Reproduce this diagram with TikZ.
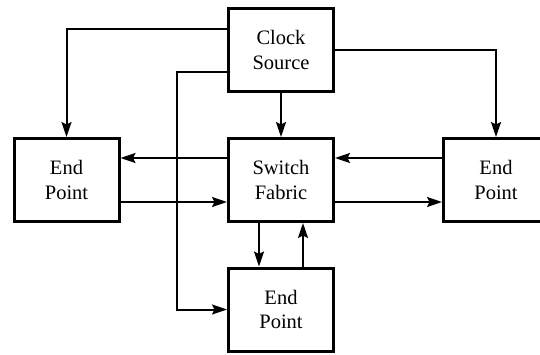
\documentclass[tikz,border=0pt]{standalone}
\usepackage{fontspec}
\setmainfont{Liberation Serif}
\newfontfamily\timesfont{Liberation Serif}
\usetikzlibrary{arrows.meta}
\begin{document}
\begin{tikzpicture}[x=1pt,y=1pt,
  box/.style={draw, line width=3pt, minimum width=105pt, minimum height=83pt,
    inner sep=0pt, align=center, font=\timesfont\fontsize{20.5}{24.5}\selectfont},
  link/.style={line width=2pt, -{Stealth[length=15pt,width=10pt,inset=2.5pt]}}]
\useasboundingbox (0,0) rectangle (540,354);
\clip (0,0) rectangle (540,354);
\node[box] (clock)  at (281,304) {Clock\\Source};
\node[box] (switch) at (281,174) {Switch\\Fabric};
\node[box] (left)   at (66.5,174) {End\\Point};
\node[box] (right)  at (496,174) {End\\Point};
\node[box] (bottom) at (281,44.5) {End\\Point};
\coordinate (j) at (177,282);
\draw[link] ([yshift=21pt]clock.west) -| (left.north);
\draw[link] (j -| clock.west) -- (j) |- (bottom.west);
\draw[link] (clock.east) -| (right.north);
\draw[link] (clock.south) -- (switch.north);
\draw[link] ([yshift=22pt]switch.west) -- ([yshift=22pt]left.east);
\draw[link] ([yshift=-22pt]left.east) -- ([yshift=-22pt]switch.west);
\draw[link] ([yshift=22pt]right.west) -- ([yshift=22pt]switch.east);
\draw[link] ([yshift=-22pt]switch.east) -- ([yshift=-22pt]right.west);
\draw[link] ([xshift=-22pt]switch.south) -- ([xshift=-22pt]bottom.north);
\draw[link] ([xshift=22pt]bottom.north) -- ([xshift=22pt]switch.south);
\end{tikzpicture}
\end{document}
